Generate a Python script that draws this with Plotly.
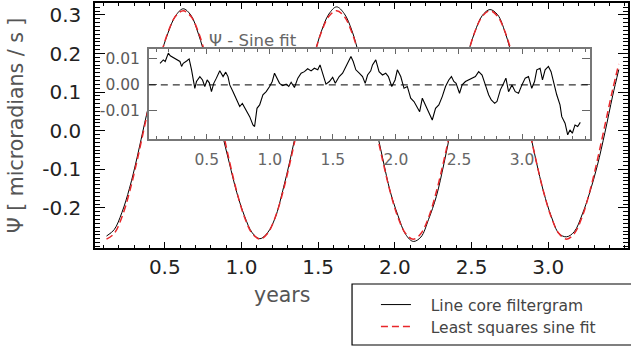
import plotly.graph_objects as go

# ---------------- data ----------------
years = [0.12, 0.17, 0.22, 0.27, 0.32, 0.37, 0.42, 0.47, 0.52, 0.57,
         0.62, 0.67, 0.72, 0.77, 0.82, 0.87, 0.92, 0.97, 1.02, 1.07,
         1.12, 1.17, 1.22, 1.27, 1.32, 1.37, 1.42, 1.47, 1.52, 1.57,
         1.62, 1.67, 1.72, 1.77, 1.82, 1.87, 1.92, 1.97, 2.02, 2.07,
         2.12, 2.17, 2.22, 2.27, 2.32, 2.37, 2.42, 2.47, 2.52, 2.57,
         2.62, 2.67, 2.72, 2.77, 2.82, 2.87, 2.92, 2.97, 3.02, 3.07,
         3.12, 3.17, 3.22, 3.27, 3.32, 3.37, 3.42, 3.46]

psi_filtergram = [-0.273, -0.2565, -0.2125, -0.149, -0.0685, 0.022, 0.1075, 0.190, 0.2525, 0.2975,
                  0.316, 0.2995, 0.250, 0.181, 0.0965, 0.000, -0.0825, -0.161, -0.2215, -0.2645,
                  -0.280, -0.2645, -0.2255, -0.154, -0.0705, 0.022, 0.111, 0.190, 0.2565, 0.3025,
                  0.321, 0.3035, 0.2595, 0.191, 0.1145, 0.021, -0.0705, -0.158, -0.2195, -0.2685,
                  -0.287, -0.2755, -0.2295, -0.171, -0.0855, 0.012, 0.1085, 0.190, 0.2545, 0.2985,
                  0.314, 0.3005, 0.2535, 0.183, 0.1025, 0.016, -0.0765, -0.159, -0.2225, -0.2665,
                  -0.275, -0.2615, -0.2185, -0.161, -0.0905, -0.004, 0.0905, 0.1585]

psi_sine_fit = [-0.281, -0.2665, -0.2245, -0.159, -0.0765, 0.015, 0.1065, 0.189, 0.2545, 0.2965,
                0.311, 0.2965, 0.2545, 0.189, 0.1065, 0.015, -0.0765, -0.159, -0.2245, -0.2665,
                -0.281, -0.2665, -0.2245, -0.159, -0.0765, 0.015, 0.1065, 0.189, 0.2545, 0.2965,
                0.311, 0.2965, 0.2545, 0.189, 0.1065, 0.015, -0.0765, -0.159, -0.2245, -0.2665,
                -0.281, -0.2665, -0.2245, -0.159, -0.0765, 0.015, 0.1065, 0.189, 0.2545, 0.2965,
                0.311, 0.2965, 0.2545, 0.189, 0.1065, 0.015, -0.0765, -0.159, -0.2245, -0.2665,
                -0.281, -0.2665, -0.2245, -0.159, -0.0765, 0.015, 0.1065, 0.173]

resid_years = [0.129, 0.155, 0.170, 0.195, 0.210, 0.234, 0.260, 0.287, 0.300, 0.313,
               0.340, 0.360, 0.379, 0.405, 0.418, 0.445, 0.466, 0.484, 0.503, 0.520,
               0.537, 0.555, 0.576, 0.603, 0.629, 0.650, 0.668, 0.682, 0.708, 0.740,
               0.761, 0.782, 0.813, 0.840, 0.866, 0.879, 0.898, 0.919, 0.945, 0.971,
               0.998, 1.019, 1.037, 1.055, 1.077, 1.103, 1.129, 1.150, 1.169, 1.195,
               1.222, 1.248, 1.274, 1.300, 1.327, 1.353, 1.380, 1.398, 1.419, 1.445,
               1.472, 1.498, 1.519, 1.550, 1.577, 1.603, 1.630, 1.643, 1.661, 1.682,
               1.709, 1.735, 1.756, 1.775, 1.800, 1.814, 1.840, 1.866, 1.893, 1.919,
               1.940, 1.967, 1.993, 2.011, 2.038, 2.064, 2.090, 2.117, 2.143, 2.169,
               2.188, 2.209, 2.235, 2.261, 2.288, 2.314, 2.340, 2.367, 2.393, 2.419,
               2.440, 2.459, 2.477, 2.504, 2.525, 2.551, 2.577, 2.604, 2.630, 2.656,
               2.683, 2.709, 2.735, 2.756, 2.783, 2.801, 2.828, 2.854, 2.872, 2.893,
               2.920, 2.946, 2.972, 2.999, 3.025, 3.051, 3.077, 3.099, 3.117, 3.143,
               3.162, 3.183, 3.209, 3.230, 3.249, 3.275, 3.301, 3.315, 3.341, 3.362,
               3.380, 3.399, 3.420, 3.441, 3.462]

resid_values = [0.0083, 0.0096, 0.0090, 0.0122, 0.0112, 0.0105, 0.0100, 0.0090, 0.0071, 0.0083,
                0.0092, 0.0100, 0.0058, -0.0013, 0.0013, 0.0032, 0.0019, -0.0006, 0.0019, 0.0008,
                -0.0026, 0.0006, 0.0026, 0.0054, 0.0032, 0.0049, 0.0032, 0.0000, -0.0026, -0.0064,
                -0.0083, -0.0071, -0.0096, -0.0122, -0.0154, -0.0160, -0.0090, -0.0077, -0.0038, -0.0026,
                -0.0006, 0.0013, 0.0045, 0.0026, 0.0006, -0.0003, 0.0003, -0.0006, 0.0010, -0.0010,
                0.0026, 0.0045, 0.0051, 0.0062, 0.0054, 0.0064, 0.0058, 0.0077, 0.0045, 0.0003,
                0.0013, 0.0029, 0.0006, 0.0032, 0.0045, 0.0071, 0.0096, 0.0109, 0.0090, 0.0058,
                0.0045, 0.0032, 0.0006, 0.0038, 0.0054, 0.0077, 0.0096, 0.0051, 0.0038, 0.0045,
                0.0032, -0.0006, 0.0019, 0.0058, 0.0032, -0.0013, -0.0006, -0.0051, -0.0064, -0.0090,
                -0.0103, -0.0051, -0.0077, -0.0109, -0.0135, -0.0090, -0.0077, -0.0045, -0.0006, 0.0019,
                0.0032, 0.0013, 0.0006, -0.0032, 0.0000, 0.0013, 0.0019, 0.0026, 0.0032, 0.0051,
                0.0038, 0.0000, -0.0038, -0.0058, -0.0071, -0.0064, -0.0019, 0.0006, 0.0026, -0.0026,
                0.0000, -0.0026, -0.0032, 0.0000, 0.0026, 0.0032, -0.0013, 0.0013, 0.0058, 0.0064,
                0.0019, 0.0058, 0.0071, 0.0051, 0.0013, -0.0038, -0.0077, -0.0122, -0.0147, -0.0192,
                -0.0173, -0.0186, -0.0154, -0.0160, -0.0144]

main_x_ticks = [0.5, 1.0, 1.5, 2.0, 2.5, 3.0]
main_x_labels = ["0.5", "1.0", "1.5", "2.0", "2.5", "3.0"]
main_y_ticks = [-0.2, -0.1, 0.0, 0.1, 0.2, 0.3]
main_y_labels = ["-0.2", "-0.1", "0.0", "0.1", "0.2", "0.3"]
inset_y_ticks = [-0.01, 0.0, 0.01]
inset_y_labels = ["-0.01", "0.00", "0.01"]

# ---------------- figure ----------------
FONT = "DejaVu Sans"
W, H = 631, 349
L, R, T, B = 95, 1, 3, 101
pw, ph = W - L - R, H - T - B


def px_x(p):
    return (p - L) / pw


def px_y(p):
    return (H - B - p) / ph


fig = go.Figure()
fig.add_trace(go.Scatter(x=years, y=psi_filtergram, mode="lines",
                         name="\u00a0\u00a0\u00a0Line core filtergram", legend="legend",
                         line=dict(color="black", width=1, shape="spline"),
                         xaxis="x", yaxis="y"))
fig.add_trace(go.Scatter(x=years, y=psi_sine_fit, mode="lines",
                         name="\u00a0\u00a0\u00a0Least squares sine fit", legend="legend2",
                         line=dict(color="#e8262a", width=1.5, dash="7px,4px", shape="spline"),
                         xaxis="x", yaxis="y"))
fig.add_trace(go.Scatter(x=resid_years, y=resid_values, mode="lines", showlegend=False,
                         line=dict(color="black", width=1.1),
                         xaxis="x2", yaxis="y2"))

axis_common = dict(showgrid=False, zeroline=False, showline=True, mirror="ticks",
                   ticks="inside")

legend_common = dict(xanchor="left", yanchor="top", bgcolor="rgba(0,0,0,0)", borderwidth=0,
                     font=dict(size=15.5, color="#444444", family=FONT))

fig.update_layout(
    width=W, height=H,
    margin=dict(l=L, r=R, t=T, b=B, pad=0),
    paper_bgcolor="white", plot_bgcolor="white",
    font=dict(family=FONT, color="#222222"),
    xaxis=dict(**axis_common, domain=[0, 1], range=[0.045, 3.52], anchor="y",
               tickvals=main_x_ticks, ticktext=main_x_labels,
               ticklen=6, tickwidth=1.2, tickcolor="black",
               linecolor="black", linewidth=1.5,
               minor=dict(dtick=0.1, tick0=0, ticks="inside", ticklen=3, tickcolor="black", tickwidth=1),
               tickfont=dict(size=20, color="#222222"), ticklabelstandoff=0),
    yaxis=dict(**axis_common, domain=[0, 1], range=[-0.304, 0.331], anchor="x",
               tickvals=main_y_ticks, ticktext=main_y_labels,
               ticklen=10, tickwidth=1.2, tickcolor="black",
               linecolor="black", linewidth=1.5,
               minor=dict(dtick=0.01, tick0=0, ticks="inside", ticklen=5, tickcolor="black", tickwidth=1),
               tickfont=dict(size=20, color="#222222"), ticklabelstandoff=8,
               title=dict(text="\u03a8 [ microradians / s ]", font=dict(size=20.5, color="#555555"),
                          standoff=13)),
    xaxis2=dict(**axis_common, domain=[px_x(149), px_x(592)], range=[0.04, 3.54], anchor="y2",
                tickvals=main_x_ticks, ticktext=main_x_labels,
                ticklen=5, tickwidth=1, tickcolor="#666666",
                linecolor="#777777", linewidth=1.5,
                minor=dict(dtick=0.1, tick0=0, ticks="inside", ticklen=3, tickcolor="#666666", tickwidth=1),
                tickfont=dict(size=15.5, color="#666666"), ticklabelstandoff=6),
    yaxis2=dict(**axis_common, domain=[px_y(139), px_y(49)], range=[-0.0208, 0.0138], anchor="x2",
                tickvals=inset_y_ticks, ticktext=inset_y_labels,
                ticklen=8, tickwidth=1, tickcolor="#666666",
                linecolor="#777777", linewidth=1.5,
                tickfont=dict(size=15.5, color="#5a5a5a"), ticklabelstandoff=4),
    showlegend=True,
    legend=dict(x=px_x(377), y=px_y(288), **legend_common),
    legend2=dict(x=px_x(377), y=px_y(310), **legend_common),
)

# inset zero reference line
fig.add_shape(type="line", xref="x2 domain", yref="y2", x0=0, x1=1, y0=0, y1=0,
              line=dict(color="black", width=1, dash="7px,5px"), layer="above")
# legend frame
fig.add_shape(type="rect", xref="paper", yref="paper",
              x0=px_x(353), x1=px_x(640), y0=px_y(345), y1=px_y(284),
              line=dict(color="black", width=1.2), fillcolor="rgba(0,0,0,0)", layer="above")

fig.add_annotation(text="\u03a8 - Sine fit", xref="paper", yref="paper",
                   x=px_x(207), y=px_y(40), xanchor="left", yanchor="middle",
                   showarrow=False, font=dict(size=16.5, color="#666666", family=FONT))
fig.add_annotation(text="years", xref="paper", yref="paper",
                   x=px_x(283), y=px_y(295), xanchor="center", yanchor="middle",
                   showarrow=False, font=dict(size=20.5, color="#555555", family=FONT))

fig.write_html("out.html")
